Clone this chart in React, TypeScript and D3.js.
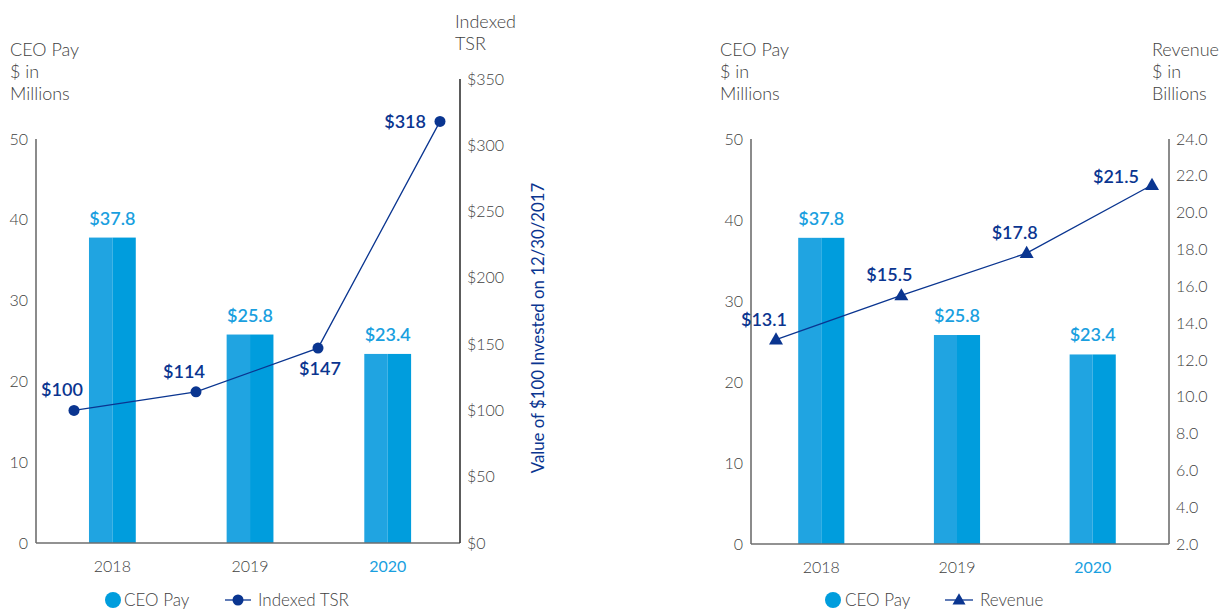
import React from "react";
import * as d3 from "d3";

// ---------- data ----------
const years = ["2018", "2019", "2020"];
const ceoPayTSRChart = [37.8, 25.8, 23.4];
const ceoPayRevenueChart = [37.8, 25.8, 23.4];
const linePeriods = ["2017", "2018", "2019", "2020"];
const indexedTSR = [100, 114, 147, 318];
const tsrLabelSide = ["aboveLeft", "aboveLeft", "below", "left"];
const revenue = [13.1, 15.5, 17.8, 21.5];
const revenueLabelSide = ["aboveLeft", "aboveLeft", "aboveLeft", "leftHigh"];
const payTicks = [0, 10, 20, 30, 40, 50];
const tsrTicks = [0, 50, 100, 150, 200, 250, 300, 350];
const revenueTicks = [2, 4, 6, 8, 10, 12, 14, 16, 18, 20, 22, 24];
const highlightYear = "2020";

// ---------- style ----------
const FONT = "Lato, 'Open Sans', sans-serif";
const BAR_LIGHT = "#20a4e1";
const BAR_DARK = "#009ddd";
const VALUE_BLUE = "#1a9fdf";
const NAVY = "#0a3590";
const TEXT = "#3f3f3f";
const AXIS = "#6e6e6e";
const LIGHT = 300;

const labelOffsets: Record<string, { dx: number; dy: number; anchor: string }> = {
  aboveLeft: { dx: -12, dy: -14, anchor: "middle" },
  below: { dx: 2, dy: 27, anchor: "middle" },
  left: { dx: -14, dy: 7, anchor: "end" },
  leftHigh: { dx: -13, dy: -2, anchor: "end" },
};

type PanelProps = {
  left: number;
  right: number;
  top: number;
  bottom: number;
  pay: number[];
  barAlign: number;
  lineRange: [number, number];
  lineValues: number[];
  lineSides: string[];
  lineDomain: [number, number];
  lineTicks: number[];
  lineTickTop: number;
  fmtTick: (v: number) => string;
  fmtValue: (v: number) => string;
  marker: "dot" | "triangle";
  rightAxisColor: string;
};

function Triangle({ x, y, s }: { x: number; y: number; s: number }) {
  const h = s * 0.87;
  return (
    <path
      d={`M${x},${y - h * 0.6}L${x + s / 2},${y + h * 0.4}L${x - s / 2},${y + h * 0.4}Z`}
      fill={NAVY}
    />
  );
}

function Panel(p: PanelProps) {
  const x = d3
    .scaleBand<string>()
    .domain(years)
    .range([p.left, p.right])
    .paddingInner(0.66)
    .paddingOuter(0.37)
    .align(p.barAlign);
  const yPay = d3.scaleLinear().domain([0, 50]).range([p.bottom, p.top]);
  const xLine = d3.scalePoint<string>().domain(linePeriods).range(p.lineRange);
  const yLine = d3.scaleLinear().domain(p.lineDomain).range([p.bottom, p.lineTickTop]);
  const lineGen = d3
    .line<number>()
    .x((_, i) => xLine(linePeriods[i])!)
    .y((v) => yLine(v));
  const bw = x.bandwidth();

  return (
    <g fontFamily={FONT}>
      {/* bars */}
      {years.map((yr, i) => {
        const x0 = x(yr)!;
        const y0 = yPay(p.pay[i]);
        const h = yPay(0) - y0;
        return (
          <g key={yr}>
            <rect x={x0} y={y0} width={bw / 2} height={h} fill={BAR_LIGHT} />
            <rect x={x0 + bw / 2} y={y0} width={bw / 2} height={h} fill={BAR_DARK} />
            <text
              x={x0 + bw / 2}
              y={y0 - 13}
              textAnchor="middle"
              fontSize={18}
              fontWeight={600}
              fill={VALUE_BLUE}
            >
              {"$" + p.pay[i].toFixed(1)}
            </text>
            <text
              x={x0 + bw / 2}
              y={p.bottom + 29}
              textAnchor="middle"
              fontSize={16}
              fontWeight={yr === highlightYear ? 400 : LIGHT}
              fill={yr === highlightYear ? VALUE_BLUE : TEXT}
            >
              {yr}
            </text>
          </g>
        );
      })}

      {/* axes */}
      <line x1={p.left} x2={p.left} y1={p.top} y2={p.bottom} stroke={AXIS} strokeWidth={1.6} />
      <line x1={p.left} x2={p.right} y1={p.bottom} y2={p.bottom} stroke={AXIS} strokeWidth={1.6} />
      <line
        x1={p.right}
        x2={p.right}
        y1={p.lineTickTop}
        y2={p.bottom}
        stroke={p.rightAxisColor}
        strokeWidth={1.6}
      />
      {payTicks.map((t) => (
        <text
          key={"p" + t}
          x={p.left - 8}
          y={yPay(t)}
          dy="0.35em"
          textAnchor="end"
          fontSize={16}
          fontWeight={LIGHT}
          fill={TEXT}
        >
          {t}
        </text>
      ))}
      {p.lineTicks.map((t) => (
        <text
          key={"l" + t}
          x={p.right + 7}
          y={yLine(t)}
          dy="0.35em"
          fontSize={16}
          fontWeight={LIGHT}
          fill={TEXT}
        >
          {p.fmtTick(t)}
        </text>
      ))}

      {/* line */}
      <path d={lineGen(p.lineValues) || ""} fill="none" stroke={NAVY} strokeWidth={1.3} />
      {p.lineValues.map((v, i) => {
        const cx = xLine(linePeriods[i])!;
        const cy = yLine(v);
        const o = labelOffsets[p.lineSides[i]];
        return (
          <g key={"m" + i}>
            {p.marker === "dot" ? (
              <circle cx={cx} cy={cy} r={5.5} fill={NAVY} />
            ) : (
              <Triangle x={cx} y={cy} s={14} />
            )}
            <text
              x={cx + o.dx}
              y={cy + o.dy}
              textAnchor={o.anchor}
              fontSize={18}
              fontWeight={600}
              fill={NAVY}
            >
              {p.fmtValue(v)}
            </text>
          </g>
        );
      })}
    </g>
  );
}

function TitleLines({ x, y, lines }: { x: number; y: number; lines: string[] }) {
  return (
    <text x={x} y={y} fontFamily={FONT} fontSize={18} fontWeight={LIGHT} fill={TEXT}>
      {lines.map((l, i) => (
        <tspan key={i} x={x} dy={i === 0 ? 0 : 22}>
          {l}
        </tspan>
      ))}
    </text>
  );
}

export default function App() {
  const top = 139;
  const bottom = 543;
  return (
    <div style={{ position: "absolute", left: 0, top: 0 }}>
      <svg width={1224} height={609} style={{ display: "block", background: "#fff" }}>
        {/* left panel */}
        <Panel
          left={36}
          right={460}
          top={top}
          bottom={bottom}
          pay={ceoPayTSRChart}
          barAlign={0.52}
          lineRange={[74, 440]}
          lineValues={indexedTSR}
          lineSides={tsrLabelSide}
          lineDomain={[0, 350]}
          lineTicks={tsrTicks}
          lineTickTop={79}
          fmtTick={(v) => "$" + v}
          fmtValue={(v) => "$" + v}
          marker="dot"
          rightAxisColor="#333"
        />
        <TitleLines x={10} y={56} lines={["CEO Pay", "$ in", "Millions"]} />
        <TitleLines x={455} y={28} lines={["Indexed", "TSR"]} />
        <text
          transform="translate(544,328) rotate(-90)"
          textAnchor="middle"
          fontFamily={FONT}
          fontSize={16.8}
          fontWeight={400}
          fill={NAVY}
        >
          Value of $100 Invested on 12/30/2017
        </text>

        {/* right panel */}
        <Panel
          left={751}
          right={1169}
          top={top}
          bottom={bottom + 1}
          pay={ceoPayRevenueChart}
          barAlign={0.47}
          lineRange={[776, 1152]}
          lineValues={revenue}
          lineSides={revenueLabelSide}
          lineDomain={[2, 24]}
          lineTicks={revenueTicks}
          lineTickTop={top}
          fmtTick={(v) => v.toFixed(1)}
          fmtValue={(v) => "$" + v.toFixed(1)}
          marker="triangle"
          rightAxisColor={AXIS}
        />
        <TitleLines x={720} y={56} lines={["CEO Pay", "$ in", "Millions"]} />
        <TitleLines x={1152} y={56} lines={["Revenue", "$ in", "Billions"]} />

        {/* legends */}
        <g fontFamily={FONT} fontSize={17} fontWeight={LIGHT} fill={TEXT}>
          <circle cx={113} cy={600} r={8} fill={BAR_DARK} />
          <text x={124} y={600} dy="0.35em">CEO Pay</text>
          <line x1={225} x2={251} y1={600} y2={600} stroke={NAVY} strokeWidth={1.3} />
          <circle cx={238} cy={600} r={5.5} fill={NAVY} />
          <text x={258} y={600} dy="0.35em">Indexed TSR</text>

          <circle cx={833} cy={600} r={8} fill={BAR_DARK} />
          <text x={845} y={600} dy="0.35em">CEO Pay</text>
          <line x1={945} x2={973} y1={600} y2={600} stroke={NAVY} strokeWidth={1.3} />
          <Triangle x={959} y={600} s={13} />
          <text x={980} y={600} dy="0.35em">Revenue</text>
        </g>
      </svg>
    </div>
  );
}
